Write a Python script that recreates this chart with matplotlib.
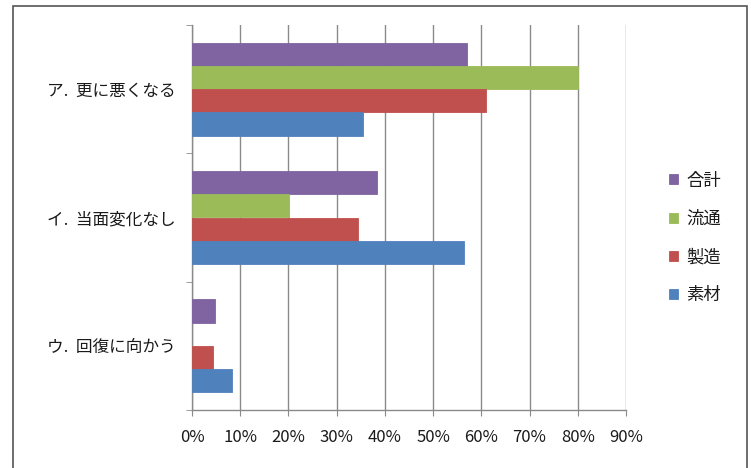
import numpy as np
import matplotlib
matplotlib.use("Agg")
import matplotlib.pyplot as plt
from matplotlib.patches import Rectangle
from matplotlib.ticker import PercentFormatter

plt.rcParams['font.family'] = ['Noto Sans CJK JP', 'DejaVu Sans']

categories = ["ア.  更に悪くなる", "イ.  当面変化なし", "ウ.  回復に向かう"]
series_names = ["合計", "流通", "製造", "素材"]
total = [57.0, 38.3, 4.7]
distribution = [80.0, 20.2, 0.0]
manufacturing = [61.0, 34.5, 4.4]
materials = [35.4, 56.5, 8.2]
colors = ["#8064A2", "#9BBB59", "#C0504D", "#4F81BD"]
xticks = list(range(0, 91, 10))

values = [total, distribution, manufacturing, materials]

fig = plt.figure(figsize=(7.51, 4.68), dpi=100)
ax = fig.add_axes([192 / 751, 1 - 410 / 468, 434 / 751, 385 / 468])

bar_h = 0.181
y = np.arange(len(categories))
for i, (name, vals, c) in enumerate(zip(series_names, values, colors)):
    offs = (i - 1.5) * bar_h
    vals = np.array(vals)
    ax.barh(y + offs, vals, height=bar_h, color=c, label=name,
            edgecolor=np.where(vals > 0, c, "none"), linewidth=0.6, zorder=3)

ax.set_xlim(0, 90)
ax.set_ylim(2.5, -0.5)
ax.set_xticks(xticks)
ax.xaxis.set_major_formatter(PercentFormatter(decimals=0))
ax.set_yticks(y)
ax.set_yticklabels(categories)
ax.set_yticks([-0.5, 0.5, 1.5, 2.5], minor=True)

ax.grid(axis="x", color="#8a8a8a", linewidth=1.0, zorder=0)
for s in ["top", "right"]:
    ax.spines[s].set_visible(False)
for s in ["left", "bottom"]:
    ax.spines[s].set_color("#8a8a8a")
    ax.spines[s].set_linewidth(1.0)

ax.tick_params(axis="x", length=4, color="#8a8a8a", pad=10, labelsize=12, labelcolor="#1a1a1a")
ax.tick_params(axis="y", which="major", length=0, pad=12, labelsize=12, labelcolor="#1a1a1a")
ax.tick_params(axis="y", which="minor", length=4, color="#8a8a8a")

ax.legend(loc="center left", bbox_to_anchor=(669 / 751, 1 - 238 / 468),
          bbox_transform=fig.transFigure, frameon=False,
          prop={"size": 12.5},
          handlelength=0.5, handleheight=0.5, handletextpad=0.5,
          labelspacing=1.17, borderaxespad=0, borderpad=0)
for t in ax.get_legend().get_texts():
    t.set_color("#1a1a1a")

# outer chart frame
fig.patches.append(Rectangle((13 / 751, -0.05), (747 - 13) / 751, 1 - 6 / 468 + 0.05,
                             transform=fig.transFigure, fill=False,
                             edgecolor="#555555", linewidth=1.2))

fig.savefig("out.png", dpi=100)
